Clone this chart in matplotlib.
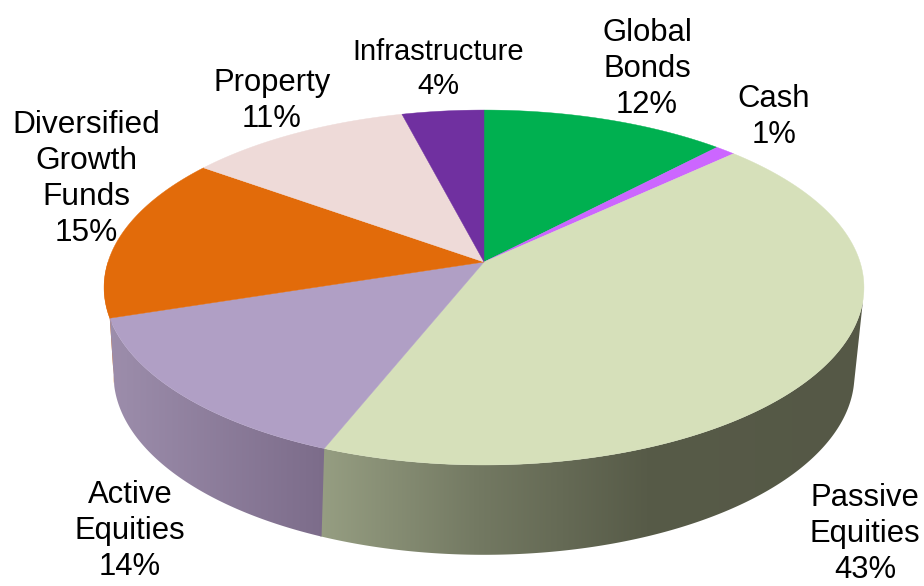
import numpy as np
import matplotlib
matplotlib.use("Agg")
import matplotlib.pyplot as plt
from matplotlib.colors import LinearSegmentedColormap
from matplotlib.patches import Polygon

# allocation shares, clockwise from twelve o'clock
names = ["Global\nBonds", "Cash", "Passive\nEquities", "Active\nEquities",
         "Diversified\nGrowth\nFunds", "Property", "Infrastructure"]
shares = [12, 1, 43, 14, 15, 11, 4]
colors = ["#00B050", "#CC66FF", "#D6E0BA", "#B09FC5", "#E26B0A", "#EEDAD8", "#7030A0"]

# label centres in figure pixels
label_x = [647, 774, 865, 130, 86, 272, 438]
label_y = [69, 117, 534, 531, 179, 101, 69]
label_size = [22.3, 22.3, 22.3, 22.3, 22.8, 22.3, 21]

plt.rcParams["font.family"] = ["Liberation Sans", "DejaVu Sans"]

# tilted disc: centre, horizontal radius, vertical radius, perspective
CX, CY = 484, 262
RX, RY, K = 376, 173.8, -0.1437
# bottom rim of the pie
RIM_DROP, RIM_SX, RIM_SY = 87, 0.975, 1.014


def top_pts(a0, a1):
    t = np.radians(np.linspace(a0, a1, 200))
    u, v = np.sin(t), -np.cos(t)
    den = 1 + K * v
    return np.column_stack([CX + RX * u / den, CY + RY * v / den])


def rim_pts(a0, a1):
    t = np.radians(np.linspace(a0, a1, 200))
    u, v = np.sin(t), -np.cos(t)
    den = 1 + K * v
    return np.column_stack([CX + RIM_SX * RX * u / den,
                            CY + RIM_DROP + RIM_SY * RY * v / den])


def rgb(r, g, b):
    return (r / 255, g / 255, b / 255)


def shaded_side(ax, top_range, rim_range, stops, x0, x1):
    # wall of a slice with a left-to-right shade clipped to its outline
    outline = np.vstack([top_pts(*top_range), rim_pts(*rim_range)])
    poly = Polygon(outline, closed=True, fc="none", ec="none")
    ax.add_patch(poly)
    cmap = LinearSegmentedColormap.from_list("side", stops)
    im = ax.imshow(np.linspace(0, 1, 256)[None, :], cmap=cmap, aspect="auto",
                   extent=[x0, x1, 586, 0], zorder=1, interpolation="bilinear")
    im.set_clip_path(poly)


fig = plt.figure(figsize=(9.24, 5.86), dpi=100)
ax = fig.add_axes([0, 0, 1, 1])

edges = np.cumsum([0] + shares) * 3.6

# walls first, the top disc covers whatever overlaps
sliver = np.vstack([top_pts(edges[4], edges[4] + 18), rim_pts(edges[4] + 14, edges[4] + 6)])
ax.add_patch(Polygon(sliver, closed=True, fc=colors[4], ec="none", zorder=1))

shaded_side(ax, (102, edges[3] + 3), (edges[3] + 3, 101),
            [(0.0, rgb(150, 158, 130)), (0.29, rgb(115, 121, 98)),
             (0.6, rgb(87, 91, 72)), (1.0, rgb(85, 88, 70))],
            320, 865)
shaded_side(ax, (edges[3], edges[4]), (edges[4] + 6, edges[3] + 1),
            [(0.0, rgb(157, 142, 172)), (1.0, rgb(124, 108, 138))],
            107, 326)

# top face
for i, c in enumerate(colors):
    pts = np.vstack([[[CX, CY]], top_pts(edges[i], edges[i + 1])])
    ax.add_patch(Polygon(pts, closed=True, fc=c, ec=c, lw=0.3, zorder=2))

for i in range(len(names)):
    ax.text(label_x[i], label_y[i], f"{names[i]}\n{shares[i]}%", ha="center", va="center",
            ma="center", fontsize=label_size[i], color="black", linespacing=1.27, zorder=3)

ax.set_xlim(0, 924)
ax.set_ylim(586, 0)
ax.axis("off")
fig.savefig("out.png", dpi=100)
